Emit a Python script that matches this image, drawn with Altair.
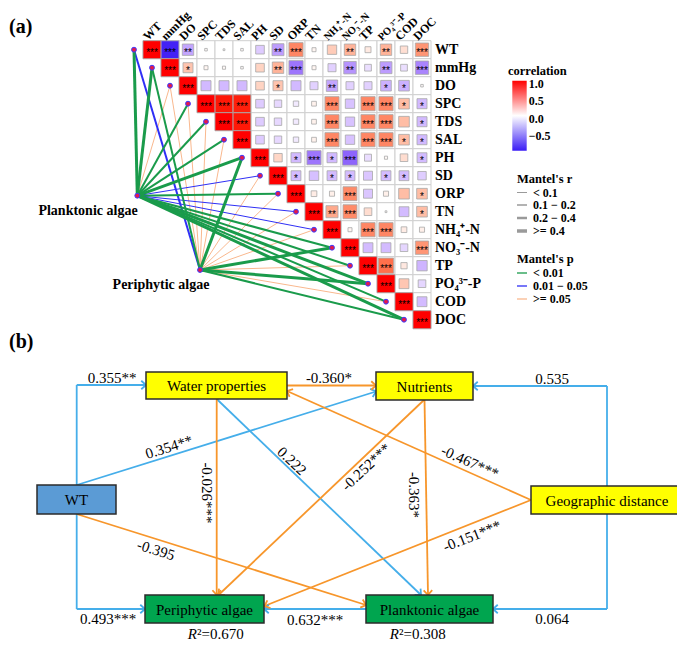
import math
import altair as alt
import pandas as pd

# ---------------- data: panel (a) ----------------
VARS = ["WT", "mmHg", "DO", "SPC", "TDS", "SAL", "PH", "SD", "ORP", "TN",
        "NH₄⁺-N", "NO₃⁻-N", "TP", "PO₄³⁻-P", "COD", "DOC"]

# upper-triangle correlations, row i vs columns i+1 .. end
R_UPPER = [
    [-0.98, -0.40, 0.02, 0.01, 0.02, -0.23, -0.44, 0.62, 0.05, 0.27, 0.40, 0.11, 0.40, 0.17, 0.55],
    [0.31, 0.05, 0.03, 0.02, 0.23, 0.40, -0.62, 0.05, -0.20, -0.48, -0.14, -0.44, -0.14, -0.55],
    [-0.31, -0.31, -0.31, 0.23, 0.31, -0.31, -0.20, -0.40, -0.20, -0.20, -0.35, -0.35, 0.02],
    [0.98, 0.97, -0.23, -0.17, -0.09, 0.07, 0.62, -0.27, 0.62, 0.62, 0.35, -0.31],
    [0.98, -0.23, -0.17, -0.09, 0.07, 0.62, -0.27, 0.62, 0.62, 0.35, -0.31],
    [-0.23, -0.17, -0.09, 0.07, 0.62, -0.27, 0.62, 0.62, 0.35, -0.31],
    [0.22, -0.31, -0.62, -0.31, -0.70, -0.15, 0.03, 0.18, -0.30],
    [-0.30, -0.28, -0.30, -0.30, -0.25, -0.30, -0.30, -0.22],
    [0.10, 0.08, 0.60, -0.25, 0.08, 0.35, 0.35],
    [0.45, 0.60, 0.18, 0.01, -0.30, 0.35],
    [0.05, 0.62, 0.62, 0.10, 0.08],
    [-0.30, -0.30, -0.18, 0.55],
    [0.72, 0.12, -0.33],
    [0.30, -0.18],
    [-0.30],
]
SIG_UPPER = [
    ["***", "**", "", "", "", "", "**", "***", "", "", "**", "", "**", "", "***"],
    ["*", "", "", "", "", "**", "***", "", "", "**", "", "**", "", "***"],
    ["", "", "", "", "*", "", "", "**", "", "", "*", "*", ""],
    ["***", "***", "", "", "", "", "***", "", "***", "***", "*", "*"],
    ["***", "", "", "", "", "***", "", "***", "***", "", "*"],
    ["", "", "", "", "***", "", "***", "***", "*", "*"],
    ["", "*", "***", "*", "***", "", "", "", "*"],
    ["*", "", "*", "*", "", "*", "*", ""],
    ["", "", "***", "", "", "", "*"],
    ["**", "***", "", "", "", "*"],
    ["", "***", "***", "", ""],
    ["", "", "", "***"],
    ["***", "", ""],
    ["", ""],
    [""],
]
CORR_TICKS = [1.0, 0.5, 0.0, -0.5]

MANTEL_R_CLASSES = ["< 0.1", "0.1 − 0.2", "0.2 − 0.4", ">= 0.4"]
MANTEL_P_CLASSES = ["< 0.01", "0.01 − 0.05", ">= 0.05"]

SOURCES = ["Planktonic algae", "Periphytic algae"]
PLANK_P = ["< 0.01", "< 0.01", ">= 0.05", "< 0.01", "< 0.01", "< 0.01", "< 0.01", "0.01 − 0.05",
           "< 0.01", "0.01 − 0.05", "0.01 − 0.05", "< 0.01", "< 0.01", "< 0.01", "< 0.01", "< 0.01"]
PLANK_R = [">= 0.4", ">= 0.4", "0.1 − 0.2", "0.2 − 0.4", "0.2 − 0.4", "0.2 − 0.4", ">= 0.4", "0.1 − 0.2",
           "0.2 − 0.4", "0.1 − 0.2", "0.1 − 0.2", "0.2 − 0.4", "0.2 − 0.4", ">= 0.4", "0.2 − 0.4", ">= 0.4"]
PERI_P = ["0.01 − 0.05", "< 0.01", ">= 0.05", ">= 0.05", ">= 0.05", ">= 0.05", "< 0.01", ">= 0.05",
          ">= 0.05", ">= 0.05", ">= 0.05", "< 0.01", ">= 0.05", "< 0.01", ">= 0.05", "< 0.01"]
PERI_R = ["0.2 − 0.4", "0.2 − 0.4", "0.1 − 0.2", "0.1 − 0.2", "0.1 − 0.2", "0.1 − 0.2", ">= 0.4", "0.1 − 0.2",
          "0.1 − 0.2", "0.1 − 0.2", "0.1 − 0.2", ">= 0.4", "0.1 − 0.2", ">= 0.4", "0.1 − 0.2", "0.2 − 0.4"]

# ---------------- data: panel (b) ----------------
NODES = ["Water properties", "Nutrients", "WT", "Geographic distance", "Periphytic algae", "Planktonic algae"]
NODE_KIND = ["env", "env", "temp", "env", "bio", "bio"]
PATH_FROM = ["WT", "WT", "WT", "Water properties", "Planktonic algae", "Geographic distance",
             "Geographic distance", "Water properties", "Geographic distance", "Water properties",
             "Nutrients", "Nutrients", "WT", "Geographic distance"]
PATH_TO = ["Water properties", "Nutrients", "Periphytic algae", "Planktonic algae", "Periphytic algae",
           "Nutrients", "Planktonic algae", "Nutrients", "Water properties", "Periphytic algae",
           "Periphytic algae", "Planktonic algae", "Planktonic algae", "Periphytic algae"]
PATH_COEF = [0.355, 0.354, 0.493, 0.222, 0.632, 0.535, 0.064, -0.360, -0.467, -0.026, -0.252,
             -0.363, -0.395, -0.151]
PATH_STARS = ["**", "**", "***", "", "***", "", "", "*", "***", "***", "***", "*", "", "***"]
R2_NODES = ["Periphytic algae", "Planktonic algae"]
R2_VALUES = ["0.670", "0.308"]

# ---------------- layout & styles ----------------
X0, Y0, CELL = 143.0, 40.7, 18.0
SRC_POS = {"Planktonic algae": (137.3, 195.7), "Periphytic algae": (200.0, 270.0)}
SRC_LABEL_POS = {"Planktonic algae": (88, 211), "Periphytic algae": (161, 285)}
P_COLORS = {"< 0.01": "#1a9b4b", "0.01 − 0.05": "#2f2ff5", ">= 0.05": "#f9b88e"}
R_WIDTHS = {"< 0.1": 0.5, "0.1 − 0.2": 1.0, "0.2 − 0.4": 2.0, ">= 0.4": 3.0}
CORR_BLUE, CORR_RED = "#3a1cf5", "#ff0000"
GRAD = (512.3, 80.7, 526.7, 150.7)  # correlation colour bar box
COL_FONT, ION_FONT = 12, 10.5

BOX = {
    "Water properties": (146, 372, 287, 399),
    "Nutrients": (376, 372, 473, 400),
    "WT": (37, 485, 116, 514),
    "Geographic distance": (531, 486, 683, 514),
    "Periphytic algae": (145, 595, 264, 623),
    "Planktonic algae": (366, 595, 493, 623),
}
KIND_FILL = {"env": "#ffff00", "temp": "#5b9bd5", "bio": "#00a54f"}
ROUTES = [
    [(76.7, 485), (76.7, 385), (146, 385)],
    [(76.7, 485), (376, 391.5)],
    [(76.7, 514), (76.7, 609), (145, 609)],
    [(216.7, 399), (421, 595)],
    [(366, 609), (264, 609)],
    [(607, 486), (607, 386), (473, 386)],
    [(607, 514), (607, 609), (493, 609)],
    [(287, 385.5), (376, 385.5)],
    [(531, 500), (287, 391)],
    [(216.7, 399), (216.7, 595)],
    [(424, 400), (218.5, 595)],
    [(424.5, 400), (428, 595)],
    [(76.5, 514), (366, 605)],
    [(531, 500), (264.5, 606)],
]
LABEL_POS = [
    (112, 378, 0), (169, 447, 342.6), (108, 619, 0), (292, 461, 43.8), (315, 620, 0),
    (552, 379, 0), (552, 619, 0), (329, 378, 0), (470, 462, 24.1), (207, 493, 90),
    (366, 467, 316.5), (414, 495, 90), (156, 550, 17.4), (472, 536, 338.3),
]
R2_POS = {"Periphytic algae": (197, 634), "Planktonic algae": (399, 634)}
POS_COL, NEG_COL = "#45aeea", "#f7962b"

SERIF = "Liberation Serif"
XS = alt.Scale(domain=[8, 677], nice=False, zero=False)
YS = alt.Scale(domain=[8, 643], nice=False, zero=False, reverse=True)


def X(f):
    return alt.X(f"{f}:Q", scale=XS, axis=None)


def Y(f):
    return alt.Y(f"{f}:Q", scale=YS, axis=None)


# ---------------- build tables ----------------
grid, squares, stars = [], [], []
for i in range(len(VARS)):
    for j in range(i, len(VARS)):
        if i == j:
            r, s = 1.0, "***"
        else:
            r, s = R_UPPER[i][j - i - 1], SIG_UPPER[i][j - i - 1]
        gx, gy = X0 + CELL * j, Y0 + CELL * i
        grid.append({"x0": gx, "x1": gx + CELL, "y0": gy, "y1": gy + CELL})
        half = CELL / 2 if i == j else CELL * math.sqrt(abs(r)) / 2
        cx, cy = gx + CELL / 2, gy + CELL / 2
        squares.append({"x0": cx - half, "x1": cx + half, "y0": cy - half, "y1": cy + half, "r": r})
        if s:
            stars.append({"x": cx, "y": cy, "t": s})
grid, squares, stars = pd.DataFrame(grid), pd.DataFrame(squares), pd.DataFrame(stars)

row_lab = pd.DataFrame({"x": [435] * len(VARS), "y": [Y0 + CELL * i + CELL / 2 for i in range(len(VARS))],
                        "t": VARS})
col_lab = pd.DataFrame({"x": [X0 + CELL * j + CELL / 2 - 4 for j in range(len(VARS))],
                        "y": [41] * len(VARS), "t": VARS,
                        "fs": [ION_FONT if v.isascii() is False else COL_FONT for v in VARS]})

targets = pd.DataFrame({"x": [X0 + CELL * i - CELL / 2 for i in range(len(VARS))],
                        "y": [Y0 + CELL * i + CELL / 2 for i in range(len(VARS))]})
mlines = []
for src, pc, rc in [("Planktonic algae", PLANK_P, PLANK_R), ("Periphytic algae", PERI_P, PERI_R)]:
    sx, sy = SRC_POS[src]
    for k in range(len(VARS)):
        mlines.append({"x": sx, "y": sy, "x2": targets.x[k], "y2": targets.y[k],
                       "col": P_COLORS[pc[k]], "w": R_WIDTHS[rc[k]], "p": pc[k]})
mlines = pd.DataFrame(mlines)
order = {">= 0.05": 0, "0.01 − 0.05": 1, "< 0.01": 2}
mlines["o"] = mlines.p.map(order)
mlines = mlines.sort_values("o")
src_pts = pd.DataFrame([{"x": SRC_POS[s][0], "y": SRC_POS[s][1]} for s in SOURCES])
src_lab = pd.DataFrame([{"x": SRC_LABEL_POS[s][0], "y": SRC_LABEL_POS[s][1], "t": s} for s in SOURCES])

# correlation colour bar (legend of the fill scale)
grad_box = pd.DataFrame([{"x0": GRAD[0], "y0": GRAD[1], "x1": GRAD[2], "y1": GRAD[3]}])
grad_lab = pd.DataFrame({"x": [GRAD[2] + 2] * len(CORR_TICKS),
                         "y": [GRAD[1] + 3 + (1 - v) / 2 * (GRAD[3] - GRAD[1]) for v in CORR_TICKS],
                         "t": [f"{v:.1f}".replace("-", "−") for v in CORR_TICKS]})
grad_fill = alt.Gradient(gradient="linear", x1=0, y1=0, x2=0, y2=1,
                         stops=[alt.GradientStop(color=CORR_RED, offset=0),
                                alt.GradientStop(color="#ffffff", offset=0.5),
                                alt.GradientStop(color=CORR_BLUE, offset=1)])

# mantel legends
leg_r = pd.DataFrame({"x": [517] * 4, "x2": [527] * 4, "y": [192.5, 205, 218, 231],
                      "w": [R_WIDTHS[c] + 0.5 for c in MANTEL_R_CLASSES], "t": MANTEL_R_CLASSES})
leg_p = pd.DataFrame({"x": [517] * 3, "x2": [527] * 3, "y": [273, 286, 299],
                      "col": [P_COLORS[c] for c in MANTEL_P_CLASSES], "t": MANTEL_P_CLASSES})
leg_titles = pd.DataFrame({"x": [508, 517, 517], "y": [70.5, 179, 259],
                           "t": ["correlation", "Mantel's r", "Mantel's p"]})
panel_tags = pd.DataFrame({"x": [9, 9], "y": [27, 342], "t": ["(a)", "(b)"]})

# panel b tables
boxes = pd.DataFrame([{"x0": BOX[n][0], "y0": BOX[n][1], "x1": BOX[n][2], "y1": BOX[n][3],
                       "cx": (BOX[n][0] + BOX[n][2]) / 2, "cy": (BOX[n][1] + BOX[n][3]) / 2 + 0.5,
                       "fill": KIND_FILL[k], "t": n} for n, k in zip(NODES, NODE_KIND)])
segs, heads, labs = [], [], []
for k in range(len(PATH_COEF)):
    col = POS_COL if PATH_COEF[k] > 0 else NEG_COL
    pts = ROUTES[k]
    for a, b in zip(pts[:-1], pts[1:]):
        segs.append({"x": a[0], "y": a[1], "x2": b[0], "y2": b[1], "col": col})
    (ax, ay), (bx, by) = pts[-2], pts[-1]
    ang = math.degrees(math.atan2(by - ay, bx - ax)) % 360
    heads.append({"x": bx, "y": by, "a": ang, "col": col})
    lx, ly, la = LABEL_POS[k]
    labs.append({"x": lx, "y": ly, "a": la, "t": f"{PATH_COEF[k]:.3f}{PATH_STARS[k]}"})
segs, heads, labs = pd.DataFrame(segs), pd.DataFrame(heads), pd.DataFrame(labs)
r2 = pd.DataFrame([{"x": R2_POS[n][0], "y": R2_POS[n][1], "t": "²=" + v} for n, v in zip(R2_NODES, R2_VALUES)])

# ---------------- layers ----------------
layers = []
layers.append(alt.Chart(panel_tags).mark_text(font=SERIF, fontSize=20, fontWeight="bold", align="left",
                                              baseline="middle", color="black")
              .encode(x=X("x"), y=Y("y"), text="t:N"))
layers.append(alt.Chart(grid).mark_rect(fill="white", stroke="#cfcfcf", strokeWidth=1)
              .encode(x=X("x0"), x2="x1:Q", y=Y("y0"), y2="y1:Q"))
layers.append(alt.Chart(squares).mark_rect(stroke="#a8a8a8", strokeWidth=0.8)
              .encode(x=X("x0"), x2="x1:Q", y=Y("y0"), y2="y1:Q",
                      fill=alt.Fill("r:Q", scale=alt.Scale(domain=[-1, 0, 1],
                                                           range=[CORR_BLUE, "#ffffff", CORR_RED],
                                                           interpolate="lab"),
                                    legend=None)))
layers.append(alt.Chart(stars).mark_text(font="Liberation Sans", fontSize=10, color="black", dy=3)
              .encode(x=X("x"), y=Y("y"), text="t:N"))
layers.append(alt.Chart(mlines).mark_rule()
              .encode(x=X("x"), y=Y("y"), x2="x2:Q", y2="y2:Q",
                      color=alt.Color("col:N", scale=None), strokeWidth=alt.StrokeWidth("w:Q", scale=None),
                      order="o:Q"))
layers.append(alt.Chart(targets).mark_circle(size=24, fill="#e3194b", stroke="#3b3bff", strokeWidth=1, opacity=1)
              .encode(x=X("x"), y=Y("y")))
layers.append(alt.Chart(src_pts).mark_circle(size=24, fill="#e3194b", stroke="#3b3bff", strokeWidth=1, opacity=1)
              .encode(x=X("x"), y=Y("y")))
layers.append(alt.Chart(src_lab).mark_text(font=SERIF, fontSize=14, fontWeight="bold", color="black")
              .encode(x=X("x"), y=Y("y"), text="t:N"))
layers.append(alt.Chart(row_lab).mark_text(font=SERIF, fontSize=14, fontWeight="bold", color="black",
                                           align="left", baseline="middle")
              .encode(x=X("x"), y=Y("y"), text="t:N"))
layers.append(alt.Chart(col_lab).mark_text(font=SERIF, fontWeight="bold", color="black",
                                           align="left", baseline="alphabetic", angle=315)
              .encode(x=X("x"), y=Y("y"), text="t:N", size=alt.Size("fs:Q", scale=None)))
# legends
layers.append(alt.Chart(grad_box).mark_rect(fill=grad_fill)
              .encode(x=X("x0"), x2="x1:Q", y=Y("y0"), y2="y1:Q"))
layers.append(alt.Chart(grad_lab).mark_text(font=SERIF, fontSize=12, fontWeight="bold", color="black",
                                            align="left", baseline="middle")
              .encode(x=X("x"), y=Y("y"), text="t:N"))
layers.append(alt.Chart(leg_titles).mark_text(font=SERIF, fontSize=12.5, fontWeight="bold", color="black",
                                              align="left", baseline="middle")
              .encode(x=X("x"), y=Y("y"), text="t:N"))
layers.append(alt.Chart(leg_r).mark_rule(color="#9a9a9a")
              .encode(x=X("x"), x2="x2:Q", y=Y("y"), strokeWidth=alt.StrokeWidth("w:Q", scale=None)))
layers.append(alt.Chart(leg_r).mark_text(font=SERIF, fontSize=12, fontWeight="bold", color="black",
                                         align="left", baseline="middle", dx=16)
              .encode(x=X("x"), y=Y("y"), text="t:N"))
layers.append(alt.Chart(leg_p).mark_rule(strokeWidth=1.3)
              .encode(x=X("x"), x2="x2:Q", y=Y("y"), color=alt.Color("col:N", scale=None)))
layers.append(alt.Chart(leg_p).mark_text(font=SERIF, fontSize=12, fontWeight="bold", color="black",
                                         align="left", baseline="middle", dx=16)
              .encode(x=X("x"), y=Y("y"), text="t:N"))
# panel b
layers.append(alt.Chart(segs).mark_rule(strokeWidth=1.8)
              .encode(x=X("x"), y=Y("y"), x2="x2:Q", y2="y2:Q", color=alt.Color("col:N", scale=None)))
layers.append(alt.Chart(heads).mark_point(shape="M-1,-0.9L0,0L-1,0.9", size=90, filled=False,
                                          strokeWidth=1.8, opacity=1)
              .encode(x=X("x"), y=Y("y"), angle=alt.Angle("a:Q", scale=None),
                      color=alt.Color("col:N", scale=None)))
layers.append(alt.Chart(boxes).mark_rect(stroke="#2b2b2b", strokeWidth=1.5)
              .encode(x=X("x0"), x2="x1:Q", y=Y("y0"), y2="y1:Q", color=alt.Color("fill:N", scale=None)))
layers.append(alt.Chart(boxes).mark_text(font=SERIF, fontSize=15, color="black", baseline="middle")
              .encode(x=X("cx"), y=Y("cy"), text="t:N"))
layers.append(alt.Chart(labs).mark_text(font=SERIF, fontSize=15, color="black", baseline="middle")
              .encode(x=X("x"), y=Y("y"), text="t:N", angle=alt.Angle("a:Q", scale=None)))
layers.append(alt.Chart(r2).mark_text(font=SERIF, fontSize=15, color="black", baseline="middle",
                                      fontStyle="italic", align="right", text="R")
              .encode(x=X("x"), y=Y("y")))
layers.append(alt.Chart(r2).mark_text(font=SERIF, fontSize=15, color="black", baseline="middle", align="left")
              .encode(x=X("x"), y=Y("y"), text="t:N"))

chart = alt.layer(*layers).properties(width=669, height=635, padding=0, autosize="none",
                                      background="white").configure_view(strokeWidth=0)
chart.save("out.html", embed_options={"renderer": "svg", "actions": False})
